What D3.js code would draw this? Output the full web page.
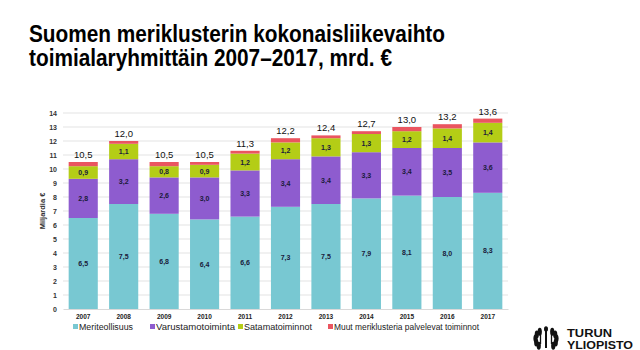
<!DOCTYPE html>
<html><head><meta charset="utf-8">
<script src="https://cdn.jsdelivr.net/npm/d3@7"></script>
<style>body{margin:0;background:#fff;} svg{display:block;font-family:"Liberation Sans",Arial,sans-serif;}</style>
</head><body>
<svg id="c" width="640" height="350"></svg>
<script>
const years = ["2007","2008","2009","2010","2011","2012","2013","2014","2015","2016","2017"];
const meriteollisuus = [6.5,7.5,6.8,6.4,6.6,7.3,7.5,7.9,8.1,8.0,8.3];
const varustamotoiminta = [2.8,3.2,2.6,3.0,3.3,3.4,3.4,3.3,3.4,3.5,3.6];
const satamatoiminnot = [0.9,1.1,0.8,0.9,1.2,1.2,1.3,1.3,1.2,1.4,1.4];
const muut = [0.3,0.2,0.3,0.2,0.2,0.3,0.2,0.2,0.3,0.3,0.3];
const totals = [10.5,12.0,10.5,10.5,11.3,12.2,12.4,12.7,13.0,13.2,13.6];
const seriesNames = ["Meriteollisuus","Varustamotoiminta","Satamatoiminnot","Muut meriklusteria palvelevat toiminnot"];
const yTicks = [0,1,2,3,4,5,6,7,8,9,10,11,12,13,14];
const colors = ["#78c8d2","#8e5ccf","#b4cd16","#ea5560"];

const svg = d3.select("#c");
const fmt = v => d3.format(".1f")(v).replace(".", ",");

// title
const title = svg.append("text").attr("font-weight","bold").attr("font-size",23).attr("fill","#000");
title.append("tspan").attr("x",29).attr("y",42).attr("textLength",416).attr("lengthAdjust","spacingAndGlyphs").text("Suomen meriklusterin kokonaisliikevaihto");
title.append("tspan").attr("x",29).attr("y",66).attr("textLength",363).attr("lengthAdjust","spacingAndGlyphs").text("toimialaryhmittäin 2007–2017, mrd. €");

const pLeft = 63, pRight = 508, pTop = 113, pBottom = 309;
const x = d3.scaleBand().domain(years).range([pLeft, pRight]).paddingInner(0.28).paddingOuter(0.14);
const y = d3.scaleLinear().domain([0,14]).range([pBottom, pTop]);

// grid
svg.append("g").selectAll("line").data(yTicks.filter(d=>d>0)).join("line")
  .attr("x1",pLeft).attr("x2",pRight).attr("y1",d=>y(d)).attr("y2",d=>y(d))
  .attr("stroke","#e3e3e3").attr("stroke-width",1);

// y axis
const yAxis = svg.append("g").attr("transform",`translate(${pLeft},0)`)
  .call(d3.axisLeft(y).tickValues(yTicks).tickSize(0).tickPadding(6));
yAxis.select(".domain").remove();
yAxis.selectAll("text").attr("font-size",7).attr("font-weight","bold").attr("fill","#333").attr("font-family","Liberation Sans, Arial, sans-serif");

svg.append("text").attr("transform",`translate(45,211) rotate(-90)`).attr("text-anchor","middle")
  .attr("font-size",7.5).attr("font-weight","bold").attr("fill","#333").text("Miljardia €");

// x axis
const xAxis = svg.append("g").attr("transform",`translate(0,${pBottom})`)
  .call(d3.axisBottom(x).tickSize(0).tickPadding(5));
xAxis.select(".domain").attr("stroke","#d9d9d9");
xAxis.selectAll("text").attr("font-size",6.5).attr("font-weight","bold").attr("fill","#222").attr("font-family","Liberation Sans, Arial, sans-serif");

// stack
const rows = years.map((yr,i)=>({year:yr, s0:meriteollisuus[i], s1:varustamotoiminta[i], s2:satamatoiminnot[i], s3:muut[i]}));
const stack = d3.stack().keys(["s0","s1","s2","s3"])(rows);

const g = svg.append("g");
stack.forEach((layer,li)=>{
  g.append("g").selectAll("rect").data(layer).join("rect")
    .attr("x",d=>x(d.data.year)).attr("width",x.bandwidth())
    .attr("y",d=>y(d[1])).attr("height",d=>y(d[0])-y(d[1]))
    .attr("fill",colors[li]);
  if(li<3){
    g.append("g").selectAll("text").data(layer).join("text")
      .attr("x",d=>x(d.data.year)+x.bandwidth()/2)
      .attr("y",d=>(y(d[0])+y(d[1]))/2+2.5)
      .attr("text-anchor","middle").attr("font-size",7).attr("font-weight","bold").attr("fill","#1a1a3a")
      .text(d=>fmt(d[1]-d[0]));
  }
});

// totals
g.append("g").selectAll("text").data(years).join("text")
  .attr("x",d=>x(d)+x.bandwidth()/2).attr("y",(d,i)=>y(totals[i])-4)
  .attr("text-anchor","middle").attr("font-size",9.5).attr("fill","#111")
  .text((d,i)=>fmt(totals[i]));

// legend
const legX = [73,150,238,328];
const legW = [54,79,68,145];
const leg = svg.append("g");
seriesNames.forEach((n,i)=>{
  leg.append("rect").attr("x",legX[i]).attr("y",324).attr("width",5).attr("height",5).attr("fill",colors[i]);
  leg.append("text").attr("x",legX[i]+6).attr("y",329.5).attr("font-size",9.2).attr("fill","#222")
    .attr("textLength",legW[i]).attr("lengthAdjust","spacingAndGlyphs").text(n);
});

// logo
const logo = svg.append("g").attr("fill","#111");
logo.append("text").attr("x",567).attr("y",337).attr("font-size",11.5).attr("font-weight","bold")
  .attr("textLength",45).attr("lengthAdjust","spacingAndGlyphs").text("TURUN");
logo.append("text").attr("x",567).attr("y",348.5).attr("font-size",11.5).attr("font-weight","bold")
  .attr("textLength",66).attr("lengthAdjust","spacingAndGlyphs").text("YLIOPISTO");
const em = logo.append("g").attr("transform","translate(546,338)");
[-1,1].forEach(s=>{
  for(let k=0;k<5;k++){
    const a = (-60 + k*28)*Math.PI/180;
    em.append("ellipse").attr("cx",s*(8.5*Math.cos(a)+2)).attr("cy",8.5*Math.sin(a)+1)
      .attr("rx",2.1).attr("ry",4);
  }
});
em.append("rect").attr("x",-1).attr("y",-8).attr("width",2).attr("height",18);
em.append("path").attr("d","M-5.5,-7 L-5.5,6 M5.5,-7 L5.5,6").attr("stroke","#111").attr("stroke-width",1.3);
em.append("ellipse").attr("cx",0).attr("cy",-9).attr("rx",2).attr("ry",2.8);
</script>
</body></html>
